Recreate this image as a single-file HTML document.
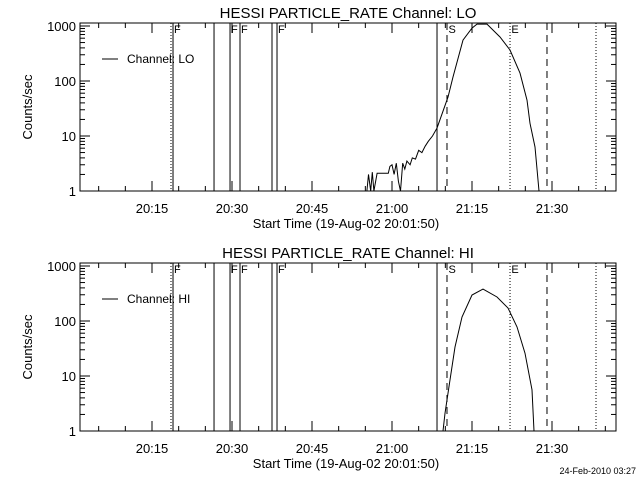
<!DOCTYPE html>
<html><head><meta charset="utf-8"><style>
html,body{margin:0;padding:0;background:#fff;}
svg{display:block;font-family:"Liberation Sans",sans-serif;}
</style></head><body>
<svg id="chart" width="640" height="480" viewBox="0 0 640 480"></svg>
<script>
const xTickLabels=["20:15","20:30","20:45","21:00","21:15","21:30"];
const xTickMinutes=[15,30,45,60,75,90];
const yTickValues=[1,10,100,1000];
const yTickLabels=["1","10","100","1000"];
const loTimes=[55.3,55.6,56.0,56.3,56.6,57.2,59.3,59.6,60.0,60.4,60.8,61.2,61.6,62.0,62.4,62.8,63.4,63.8,64.4,65.0,65.6,66.2,66.8,67.6,68.44,70.5,71.44,73.31,75.0,75.94,77.81,80.25,82.13,84.0,85.31,85.88,86.81,87.56];
const loValues=[1,2,1,2.2,1,2.1,2.1,2.8,3,2,3.2,1.5,1,3.2,2.5,3.5,3,4,3.8,5.5,5,6.5,8,10,13.9,51,118,555,915,1083,1083,631,366,139,45,17,6.3,1];
const hiTimes=[69.56,69.94,70.88,71.81,73.13,75.0,77.06,79.69,81.75,83.44,84.94,86.25,86.63];
const hiValues=[1,2.1,8.5,33.7,118,297,380,273,172,78,26,5.6,1];
const solidLines=[18.94,26.63,29.63,31.5,37.5,38.44,68.44];
const dottedLines=[18.56,82.13,98.25];
const dashedLines=[70.31,89.06];
const flagLabels=["F","F","F","F","S","E"];
const flagTimes=[18.94,29.63,31.5,38.44,70.4,82.2];

const NS="http://www.w3.org/2000/svg";
const svg=document.getElementById('chart');
function mk(tag,attrs,parent){const e=document.createElementNS(NS,tag);for(const k in attrs)e.setAttribute(k,attrs[k]);(parent||svg).appendChild(e);return e;}
const X0=80,X1=616;
function xs(t){return 152+(t-15)*80/15;}

function panel(top,bottom,chan,times,values,key){
  const g=mk('g',{});
  
  
  function ys(v){return bottom-Math.log10(v)*55;}
  const t=mk('text',{x:348,y:top-5,'text-anchor':'middle','font-size':15},g);
  t.textContent='HESSI PARTICLE_RATE Channel: '+chan;
  
  
  const fr=mk('rect',{x:X0,y:top,width:X1-X0,height:bottom-top,fill:'none',stroke:'#000','stroke-width':1},g);
  
  
  // x ticks
  for(let m=5;m<=100;m+=5){const x=xs(m);if(x<=X0||x>=X1)continue;const big=(m%15===0)?10:5;
    mk('line',{x1:x,y1:bottom,x2:x,y2:bottom-big,stroke:'#000'},g);mk('line',{x1:x,y1:top,x2:x,y2:top+big,stroke:'#000'},g);}
  xTickMinutes.forEach((m,i)=>{const l=mk('text',{x:xs(m),y:bottom+22,'text-anchor':'middle','font-size':13},g);l.textContent=xTickLabels[i];
    
    });
  const xl=mk('text',{x:346,y:bottom+37,'text-anchor':'middle','font-size':13},g);xl.textContent='Start Time (19-Aug-02 20:01:50)';
  
  
  // y ticks
  for(let d=1;d<=1000;d*=10){for(let k=1;k<10;k++){const v=d*k;const y=ys(v);if(y<top)break;const len=k===1?10:5;
    mk('line',{x1:X0,y1:y,x2:X0+len,y2:y,stroke:'#000'},g);mk('line',{x1:X1,y1:y,x2:X1-len,y2:y,stroke:'#000'},g);}}
  yTickValues.forEach((v,i)=>{const l=mk('text',{x:X0-4,y:ys(v)+5,'text-anchor':'end','font-size':13},g);l.textContent=yTickLabels[i];
    
    });
  const yl=mk('text',{x:0,y:0,'text-anchor':'middle','font-size':13,transform:`translate(32,${(top+bottom)/2}) rotate(-90)`},g);yl.textContent='Counts/sec';
  
  
  // vertical lines
  solidLines.forEach(tm=>{const l=mk('line',{x1:xs(tm),y1:top,x2:xs(tm),y2:bottom,stroke:'#000'},g);
    
    });
  dottedLines.forEach(tm=>{const l=mk('line',{x1:xs(tm),y1:top,x2:xs(tm),y2:bottom,stroke:'#000','stroke-dasharray':'1,2'},g);
    
    });
  dashedLines.forEach(tm=>{const l=mk('line',{x1:xs(tm),y1:top,x2:xs(tm),y2:bottom,stroke:'#000','stroke-dasharray':'7,5'},g);
    
    });
  flagLabels.forEach((s,i)=>{const l=mk('text',{x:xs(flagTimes[i])+1,y:top+10,'font-size':11},g);l.textContent=s;
    
    });
  // series
  const pts=times.map((tm,i)=>xs(tm).toFixed(1)+','+Math.max(top,Math.min(bottom,ys(values[i]))).toFixed(1)).join(' ');
  const pl=mk('polyline',{points:pts,fill:'none',stroke:'#000','stroke-width':1},g);
  
  
  // legend
  const lg=mk('g',{},g);
  
  
  mk('line',{x1:102,y1:top+36,x2:118,y2:top+36,stroke:'#000'},lg);
  const lt=mk('text',{x:127,y:top+40,'font-size':12},lg);lt.textContent='Channel: '+chan;
}
panel(23,191,'LO',loTimes,loValues,'lo');
panel(263,431,'HI',hiTimes,hiValues,'hi');
const ts=mk('text',{x:636,y:474,'text-anchor':'end','font-size':9});ts.textContent='24-Feb-2010 03:27';


</script>
</body></html>
